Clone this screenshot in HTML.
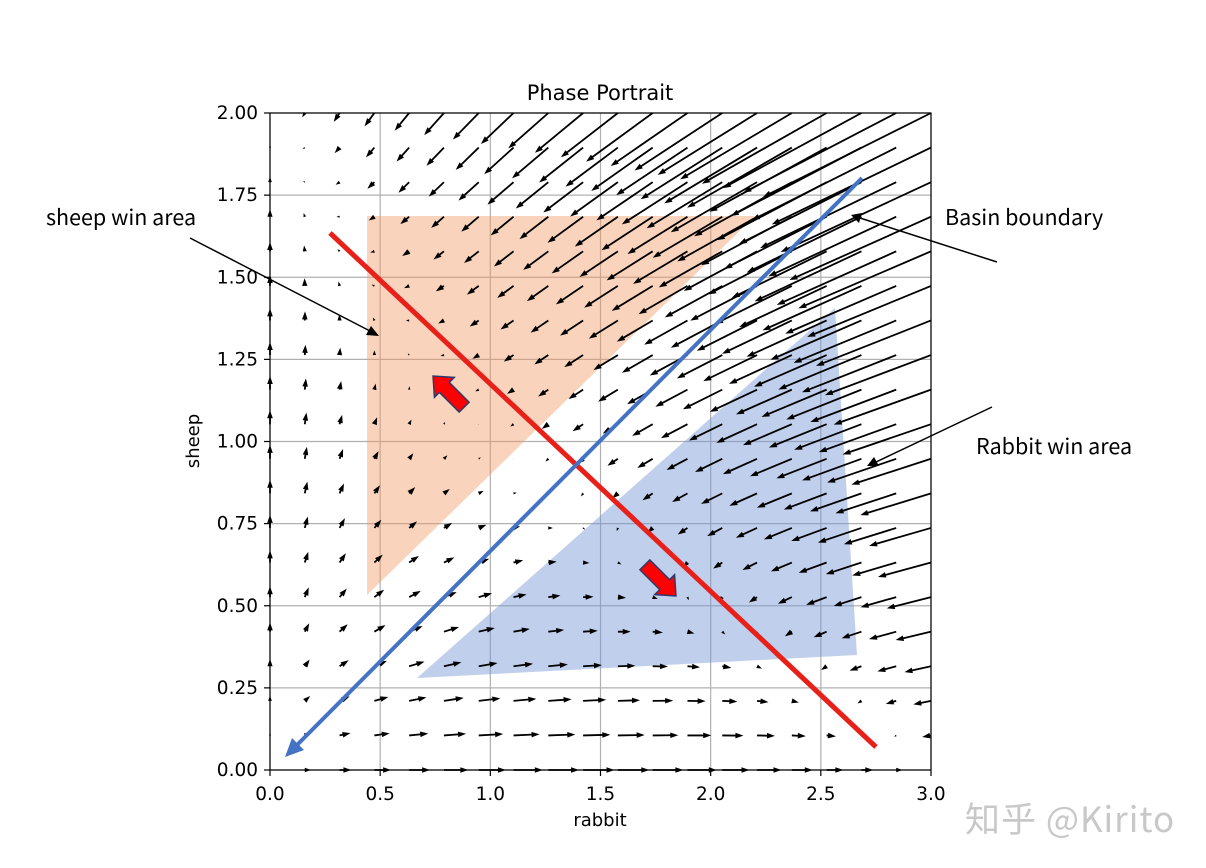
<!DOCTYPE html>
<html><head><meta charset="utf-8"><style>
body{margin:0;background:#fff}
svg{display:block;font-family:"DejaVu Sans","Liberation Sans",sans-serif}
.ann{font-family:"Noto Sans CJK SC","Liberation Sans",sans-serif}
</style></head><body>
<svg id="chart" width="1206" height="868" viewBox="0 0 1206 868" xmlns="http://www.w3.org/2000/svg">
<rect width="1206" height="868" fill="#fff"/>
<g id="grid"></g>
<polygon points="367,216 755,216 367,595" fill="rgba(240,150,95,0.42)"/>
<polygon points="835,308 857,655 417,678" fill="rgba(115,150,212,0.45)"/>
<g id="quiver"></g>
<line x1="330" y1="233" x2="876" y2="747" stroke="#e8201a" stroke-width="5"/>
<line x1="862" y1="178" x2="296" y2="746" stroke="#4472c4" stroke-width="4"/>
<polygon points="285,757 292,738 304,750" fill="#4472c4"/>
<g transform="translate(450,393) rotate(225)">
<polygon points="-20,-7 8,-7 8,-14 24,0 8,14 8,7 -20,7" fill="#f00" stroke="#2f3a6a" stroke-width="1.5"/></g>
<g transform="translate(659,579) rotate(45)">
<polygon points="-20,-7 8,-7 8,-14 24,0 8,14 8,7 -20,7" fill="#f00" stroke="#2f3a6a" stroke-width="1.5"/></g>
<rect x="270" y="113" width="661" height="657" fill="none" stroke="#000" stroke-width="1.2"/>
<g id="ticks"></g>
<text x="600" y="100" font-size="21" text-anchor="middle">Phase Portrait</text>
<text x="600" y="826" font-size="18" text-anchor="middle">rabbit</text>
<text transform="translate(199,441) rotate(-90)" font-size="18" text-anchor="middle">sheep</text>
<text class="ann" x="46" y="225" font-size="21.5">sheep win area</text>
<line x1="190" y1="238" x2="370" y2="331" stroke="#000" stroke-width="1.5"/>
<polygon points="379,336 366,335 371,326" fill="#000"/>
<text class="ann" x="945" y="225" font-size="21.5">Basin boundary</text>
<line x1="997" y1="262" x2="860" y2="218" stroke="#000" stroke-width="1.5"/>
<polygon points="851,215 862,213 859,223" fill="#000"/>
<text class="ann" x="976" y="454" font-size="21.5">Rabbit win area</text>
<line x1="992" y1="407" x2="876" y2="462" stroke="#000" stroke-width="1.5"/>
<polygon points="867,466 874,457 879,466" fill="#000"/>
<text x="965" y="832" font-size="35" fill="#c8c8c8" font-family="'Noto Sans CJK SC','Liberation Sans',sans-serif" letter-spacing="1">知乎 @Kirito</text>
</svg>
<script>
const xTicks=[0,0.5,1.0,1.5,2.0,2.5,3.0];
const xTickLabels=["0.0","0.5","1.0","1.5","2.0","2.5","3.0"];
const yTicks=[0,0.25,0.5,0.75,1.0,1.25,1.5,1.75,2.0];
const yTickLabels=["0.00","0.25","0.50","0.75","1.00","1.25","1.50","1.75","2.00"];
const gridCount=[20];
const xRange=[0,3];
const yRange=[0,2];
// Model parameters (competitive Lotka-Volterra): dx=x(a-x-b*y), dy=y(c-x-y)
const modelParams=[3,2,2];
const NS="http://www.w3.org/2000/svg";
const X0=270,X1=931,Y0=770,Y1=113;
function sx(v){return X0+(v-xRange[0])/(xRange[1]-xRange[0])*(X1-X0);}
function sy(v){return Y0-(v-yRange[0])/(yRange[1]-yRange[0])*(Y0-Y1);}
function mk(tag,attrs,parent){const e=document.createElementNS(NS,tag);for(const k in attrs)e.setAttribute(k,attrs[k]);parent.appendChild(e);return e;}
const grid=document.getElementById('grid'),ticks=document.getElementById('ticks'),quiver=document.getElementById('quiver');
xTicks.forEach((t,i)=>{
  const g=mk('line',{x1:sx(t),x2:sx(t),y1:Y1,y2:Y0,stroke:'#b0b0b0','stroke-width':1.2},grid);
  
  
  const tk=mk('line',{x1:sx(t),x2:sx(t),y1:Y0,y2:Y0+6,stroke:'#000','stroke-width':1.2},ticks);
  
  
  const tx=mk('text',{x:sx(t),y:Y0+30,'font-size':18.5,'text-anchor':'middle'},ticks);
  tx.textContent=xTickLabels[i];
  
  
});
yTicks.forEach((t,i)=>{
  const g=mk('line',{x1:X0,x2:X1,y1:sy(t),y2:sy(t),stroke:'#b0b0b0','stroke-width':1.2},grid);
  
  
  const tk=mk('line',{x1:X0-6,x2:X0,y1:sy(t),y2:sy(t),stroke:'#000','stroke-width':1.2},ticks);
  
  
  const tx=mk('text',{x:X0-12,y:sy(t)+6,'font-size':18.5,'text-anchor':'end'},ticks);
  tx.textContent=yTickLabels[i];
  
  
});
const n=gridCount[0],k=14,sw=1.8;
for(let i=0;i<n;i++){for(let j=0;j<n;j++){
  const x=xRange[0]+(xRange[1]-xRange[0])*i/(n-1);
  const y=yRange[0]+(yRange[1]-yRange[0])*j/(n-1);
  const u=x*(modelParams[0]-x-modelParams[1]*y);
  const v=y*(modelParams[2]-x-y);
  const L=Math.hypot(u,v)*k;
  if(L<0.3)continue;
  const ang=Math.atan2(-v,u)*180/Math.PI;
  const hl=Math.min(8,L),hw=Math.min(5.6,L*0.7);
  const sl=Math.max(0,L-hl);
  const px=sx(x),py=sy(y);
  const pts=`0,${-sw/2} ${sl},${-sw/2} ${sl},${-hw/2} ${L},0 ${sl},${hw/2} ${sl},${sw/2} 0,${sw/2}`;
  const a=mk('polygon',{points:pts,fill:'#000',transform:`translate(${px},${py}) rotate(${ang})`},quiver);
  
  
}}
</script>
</body></html>
